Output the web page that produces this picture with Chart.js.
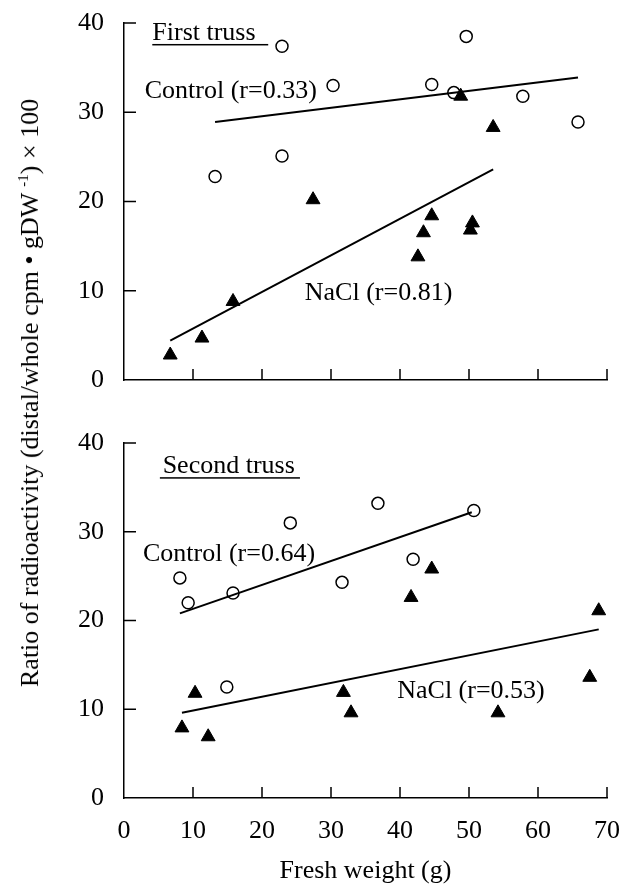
<!DOCTYPE html>
<html><head><meta charset="utf-8">
<script src="https://cdn.jsdelivr.net/npm/chart.js@4.4.0/dist/chart.umd.min.js"></script>
<style>
body{margin:0;background:#fff;}
#wrap{position:relative;width:623px;height:887px;overflow:hidden;}
#c1{position:absolute;left:0;top:0;}
#c2{position:absolute;left:0;top:420px;}
#ytitle{position:absolute;left:30px;top:393px;transform:translate(-50%,-50%) rotate(-90deg);white-space:nowrap;font-family:'Liberation Serif';font-size:26px;color:#000;}
#ytitle sup{font-size:15px;}
</style></head><body>
<div id="wrap">
<canvas id="c1" width="623" height="420"></canvas>
<canvas id="c2" width="623" height="467"></canvas>
<div id="ytitle">Ratio of radioactivity (distal/whole cpm • gDW <sup>-1</sup>) × 100</div>
</div>
<script>
// ---- data ----
const xTickValues = [0,10,20,30,40,50,60,70];
const yTickValues = [0,10,20,30,40];
const xAxisTitle = 'Fresh weight (g)';

// First truss
const firstControlX = [13.2,22.9,22.9,30.3,44.6,49.6,47.8,57.8,65.8];
const firstControlY = [22.8,25.1,37.4,33.0,33.1,38.5,32.2,31.8,28.9];
const firstNaclX = [6.7,11.3,15.8,27.4,42.6,43.4,44.6,50.2,50.5,48.8,53.5];
const firstNaclY = [2.8,4.7,8.8,20.2,13.8,16.5,18.4,16.8,17.6,31.8,28.3];
const firstControlFitX = [13.2,65.8];
const firstControlFitY = [28.9,33.9];
const firstNaclFitX = [6.7,53.5];
const firstNaclFitY = [4.4,23.6];
const firstLabels = ['First truss','Control (r=0.33)','NaCl (r=0.81)'];

// Second truss
const secondControlX = [8.1,9.3,15.8,14.9,24.1,31.6,36.8,41.9,50.7];
const secondControlY = [24.8,22.0,23.1,12.5,31.0,24.3,33.2,26.9,32.4];
const secondNaclX = [8.4,10.3,12.2,31.8,32.9,41.6,44.6,54.2,67.5,68.8];
const secondNaclY = [7.9,11.8,6.9,11.9,9.6,22.6,25.8,9.6,13.6,21.1];
const secondControlFitX = [8.1,50.4];
const secondControlFitY = [20.8,32.2];
const secondNaclFitX = [8.4,68.8];
const secondNaclFitY = [9.6,19.0];
const secondLabels = ['Second truss','Control (r=0.64)','NaCl (r=0.53)'];

const pts = (xs, ys) => xs.map((v,i)=>({x:v,y:ys[i]}));
const FONT = 'Liberation Serif';

const annot = {
  id:'annot',
  afterDatasetsDraw(chart, args, opts){
    const ctx = chart.ctx, x = chart.scales.x, y = chart.scales.y;
    ctx.save();
    ctx.strokeStyle = '#000'; ctx.lineWidth = 1.5;
    ctx.beginPath();
    yTickValues.forEach(v=>{ if(v===0) return; const py = y.getPixelForValue(v); ctx.moveTo(x.left, py); ctx.lineTo(x.left+12, py); });
    xTickValues.forEach(v=>{ if(v===0) return; const px = x.getPixelForValue(v); ctx.moveTo(px, y.bottom); ctx.lineTo(px, y.bottom-11); });
    ctx.stroke();
    ctx.fillStyle = '#000';
    ctx.font = '26px "' + FONT + '"';
    ctx.textBaseline = 'alphabetic';
    ctx.textAlign = 'left';
    opts.items.forEach(it=>{
      const px = x.getPixelForValue(it.x), py = y.getPixelForValue(it.y);
      ctx.fillText(it.text, px, py);
      if (it.ulEnd !== undefined) {
        const ux0 = x.getPixelForValue(it.ulStart), ux1 = x.getPixelForValue(it.ulEnd);
        ctx.fillRect(ux0, py+4, ux1-ux0, 1.5);
      }
    });
    ctx.restore();
  }
};

function makeChart(id, datasets, bottom, items){
  return new Chart(document.getElementById(id), {
    type:'scatter',
    data:{datasets},
    plugins:[annot],
    options:{
      responsive:false, animation:false,
      layout:{padding:{top:23,right:16,left:0,bottom:0}},
      plugins:{legend:{display:false}, tooltip:{enabled:false}, annot:{items}},
      scales:{
        x:{type:'linear', min:0, max:70,
           ticks:{stepSize:10, display:bottom, color:'#000', font:{family:FONT,size:26}, padding:18, maxRotation:0},
           grid:{display:false, drawTicks:false},
           border:{display:true, color:'#000', width:1.5},
           title:{display:bottom, text:xAxisTitle, color:'#000', font:{family:FONT,size:26}, padding:0},
           afterFit(s){ s.height = bottom ? 89 : 40; s.paddingLeft = 0; s.paddingRight = 0; s.paddingTop = 0; s.paddingBottom = 0; }},
        y:{type:'linear', min:0, max:40,
           ticks:{stepSize:10, color:'#000', font:{family:FONT,size:26}, padding:20},
           grid:{display:false, drawTicks:false},
           border:{display:true, color:'#000', width:1.5},
           afterFit(s){ s.width = 124; s.paddingLeft = 0; s.paddingRight = 0; s.paddingTop = 0; s.paddingBottom = 0; }}
      }
    }
  });
}

const circleDs = (data)=>({data, pointStyle:'circle', pointRadius:6, pointBackgroundColor:'#fff', pointBorderColor:'#000', pointBorderWidth:1.5, showLine:false});
const triDs = (data)=>({data, pointStyle:'triangle', pointRadius:8, pointBackgroundColor:'#000', pointBorderColor:'#000', pointBorderWidth:1, showLine:false});
const lineDs = (data)=>({data, showLine:true, pointRadius:0, borderColor:'#000', borderWidth:2, fill:false});

makeChart('c1', [
  lineDs(pts(firstControlFitX, firstControlFitY)),
  lineDs(pts(firstNaclFitX, firstNaclFitY)),
  triDs(pts(firstNaclX, firstNaclY)),
  circleDs(pts(firstControlX, firstControlY))
], false, [
  {text:firstLabels[0], x:4.1, y:38.1, ulStart:4.1, ulEnd:20.9},
  {text:firstLabels[1], x:3.0, y:31.6},
  {text:firstLabels[2], x:26.2, y:9.0}
]);

makeChart('c2', [
  lineDs(pts(secondControlFitX, secondControlFitY)),
  lineDs(pts(secondNaclFitX, secondNaclFitY)),
  triDs(pts(secondNaclX, secondNaclY)),
  circleDs(pts(secondControlX, secondControlY))
], true, [
  {text:secondLabels[0], x:5.6, y:36.6, ulStart:5.2, ulEnd:25.5},
  {text:secondLabels[1], x:2.75, y:26.7},
  {text:secondLabels[2], x:39.6, y:11.3}
]);
</script>
</body></html>
